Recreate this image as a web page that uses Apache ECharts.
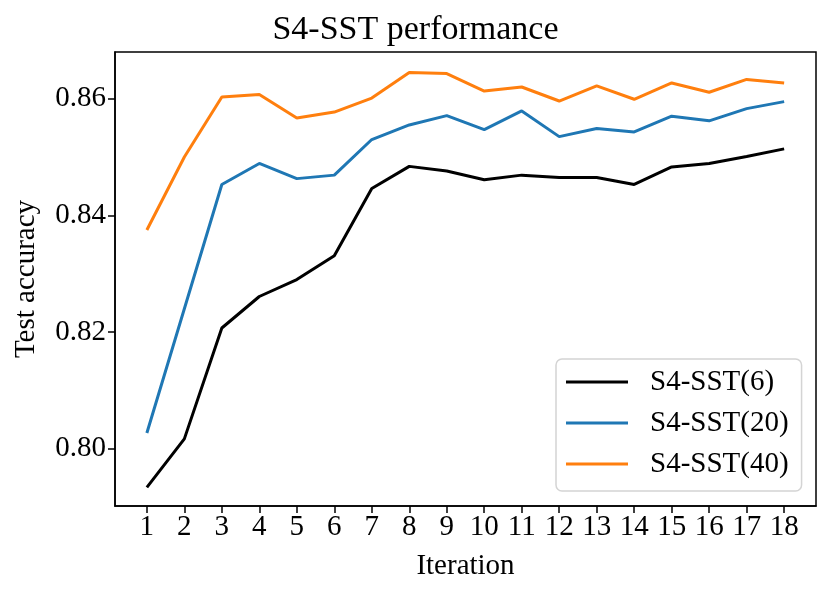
<!DOCTYPE html>
<html>
<head>
<meta charset="UTF-8">
<script src="https://cdn.jsdelivr.net/npm/echarts@6/dist/echarts.min.js"></script>
<style>
html, body { margin: 0; padding: 0; background: #fff; }
#chart { width: 831px; height: 598px; }
</style>
</head>
<body>
<div id="chart"></div>
<script type="text/javascript">
// data
var iterations = [1, 2, 3, 4, 5, 6, 7, 8, 9, 10, 11, 12, 13, 14, 15, 16, 17, 18];
var sst6  = [0.7934, 0.8017, 0.8207, 0.8261, 0.8290, 0.8331, 0.8446, 0.8484, 0.8476, 0.8461, 0.8469, 0.8465, 0.8465, 0.8453, 0.8483, 0.8489, 0.8501, 0.8514];
var sst20 = [0.8027, 0.8240, 0.8453, 0.8489, 0.8463, 0.8469, 0.8530, 0.8555, 0.8571, 0.8547, 0.8579, 0.8535, 0.8549, 0.8543, 0.8570, 0.8562, 0.8583, 0.8595];
var sst40 = [0.8375, 0.8500, 0.8603, 0.8607, 0.8567, 0.8577, 0.8601, 0.8645, 0.8643, 0.8613, 0.8620, 0.8596, 0.8622, 0.8599, 0.8627, 0.8611, 0.8633, 0.8627];
var yTicks = [0.80, 0.82, 0.84, 0.86];
var seriesNames = ['S4-SST(6)', 'S4-SST(20)', 'S4-SST(40)'];
var colors = ['#000000', '#1f77b4', '#ff7f0e'];

var FONT = 'Liberation Serif';

function pairs(vals) {
	var out = [];
	for (var i = 0; i < iterations.length; i++) {
		out.push([iterations[i], vals[i]]);
	}
	return out;
}

var chart = echarts.init(document.getElementById('chart'));

var allSeries = [sst6, sst20, sst40].map(function (vals, i) {
	return {
		name: seriesNames[i],
		type: 'line',
		data: pairs(vals),
		showSymbol: false,
		symbol: 'none',
		lineStyle: { color: colors[i], width: 3 },
		itemStyle: { color: colors[i] },
		animation: false
	};
});

var option = {
	backgroundColor: '#fff',
	animation: false,
	title: {
		text: 'S4-SST performance',
		left: 'center',
		top: 8,
		textStyle: { fontFamily: FONT, fontSize: 34, fontWeight: 'normal', color: '#000' }
	},
	grid: {
		left: 115, right: 15, top: 52, bottom: 92,
		show: true,
		borderColor: '#000',
		borderWidth: 1.5,
		containLabel: false
	},
	legend: {
		orient: 'vertical',
		left: 556,
		top: 359,
		padding: [8, 13, 12, 10],
		itemGap: 11,
		itemWidth: 62,
		itemHeight: 3,
		icon: 'rect',
		borderColor: '#d4d4d4',
		borderWidth: 1.5,
		borderRadius: 6,
		backgroundColor: 'rgba(255,255,255,0.8)',
		data: seriesNames,
		textStyle: {
			fontFamily: FONT, fontSize: 29, color: '#000',
			lineHeight: 30,
			padding: [0, 0, 0, 17]
		}
	},
	xAxis: {
		type: 'value',
		min: 0.15,
		max: 18.85,
		name: 'Iteration',
		nameLocation: 'middle',
		nameGap: 46,
		nameTextStyle: { fontFamily: FONT, fontSize: 29, color: '#000' },
		axisLine: { show: true, lineStyle: { color: '#000', width: 1.5 } },
		axisTick: {
			show: true, length: 7, inside: false,
			lineStyle: { color: '#000', width: 1.5 },
			customValues: iterations
		},
		axisLabel: {
			customValues: iterations,
			fontFamily: FONT, fontSize: 29, color: '#000', margin: 7
		},
		splitLine: { show: false }
	},
	yAxis: {
		type: 'value',
		min: 0.7902,
		max: 0.868,
		name: 'Test accuracy',
		nameLocation: 'middle',
		nameGap: 74,
		nameTextStyle: { fontFamily: FONT, fontSize: 29, color: '#000' },
		axisLine: { show: true, lineStyle: { color: '#000', width: 1.5 } },
		axisTick: {
			show: true, length: 7, inside: false,
			lineStyle: { color: '#000', width: 1.5 },
			customValues: yTicks
		},
		axisLabel: {
			customValues: yTicks,
			fontFamily: FONT, fontSize: 29, color: '#000', margin: 9,
			formatter: function (v) { return v.toFixed(2); }
		},
		splitLine: { show: false }
	},
	series: allSeries
};

chart.setOption(option);
</script>
</body>
</html>
